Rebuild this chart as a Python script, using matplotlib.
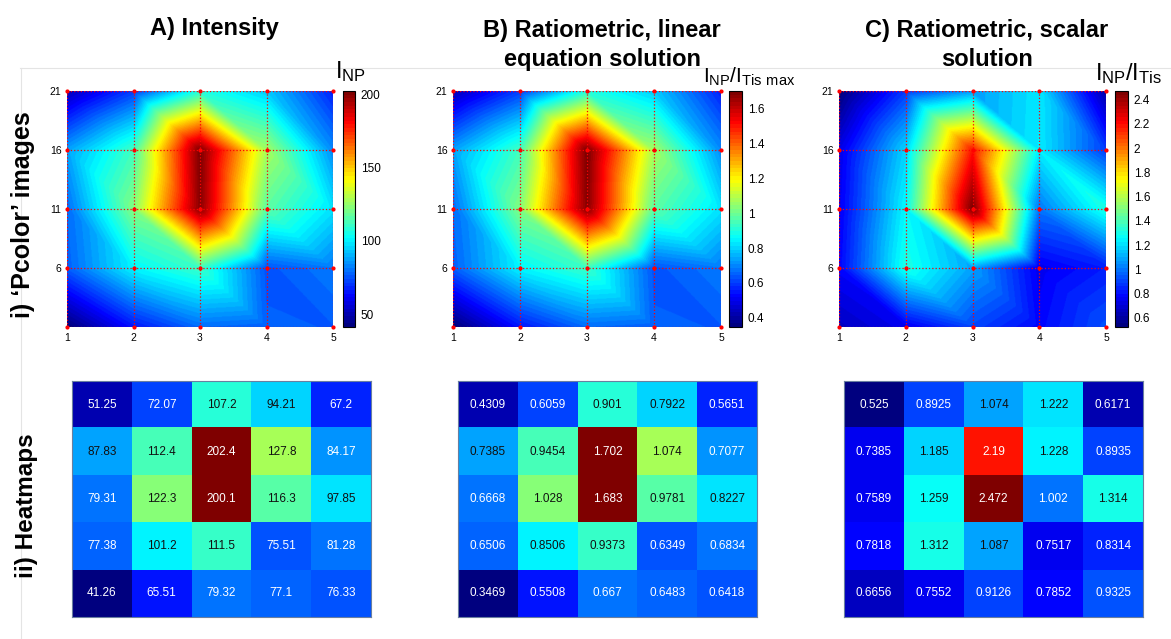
import numpy as np
import matplotlib
matplotlib.use("Agg")
import matplotlib.pyplot as plt
import matplotlib.tri as mtri
from matplotlib.lines import Line2D
from matplotlib.colors import LinearSegmentedColormap
from matplotlib.ticker import FormatStrFormatter

plt.rcParams['font.family'] = ['Liberation Sans', 'DejaVu Sans']
plt.rcParams['mathtext.fontset'] = 'custom'
plt.rcParams['mathtext.rm'] = 'Liberation Sans'

# grid positions, tables are written top row first (y = 21 down to y = 1)
x_pos = [1, 2, 3, 4, 5]
y_pos = [21, 16, 11, 6, 1]

intensity = [[51.25, 72.07, 107.2, 94.21, 67.2],
             [87.83, 112.4, 202.4, 127.8, 84.17],
             [79.31, 122.3, 200.1, 116.3, 97.85],
             [77.38, 101.2, 111.5, 75.51, 81.28],
             [41.26, 65.51, 79.32, 77.1, 76.33]]

ratio_linear = [[0.4309, 0.6059, 0.901, 0.7922, 0.5651],
                [0.7385, 0.9454, 1.702, 1.074, 0.7077],
                [0.6668, 1.028, 1.683, 0.9781, 0.8227],
                [0.6506, 0.8506, 0.9373, 0.6349, 0.6834],
                [0.3469, 0.5508, 0.667, 0.6483, 0.6418]]

ratio_scalar = [[0.525, 0.8925, 1.074, 1.222, 0.6171],
                [0.7385, 1.185, 2.19, 1.228, 0.8935],
                [0.7589, 1.259, 2.472, 1.002, 1.314],
                [0.7818, 1.312, 1.087, 0.7517, 0.8314],
                [0.6656, 0.7552, 0.9126, 0.7852, 0.9325]]

titles = ["A) Intensity",
          "B) Ratiometric, linear\nequation solution",
          "C) Ratiometric, scalar\nsolution"]
cbar_labels = [r'$\mathrm{I_{NP}}$',
               r'$\mathrm{I_{NP}/I_{Tis\ max}}$',
               r'$\mathrm{I_{NP}/I_{Tis}}$']
cbar_ticks = [[50, 100, 150, 200],
              [0.4, 0.6, 0.8, 1.0, 1.2, 1.4, 1.6],
              [0.6, 0.8, 1.0, 1.2, 1.4, 1.6, 1.8, 2.0, 2.2, 2.4]]
row_labels = ["i) \u2018Pcolor\u2019 images", "ii) Heatmaps"]

W, H = 1171, 639
fig = plt.figure(figsize=(W / 100, H / 100), dpi=100)

# MATLAB style jet, 64 steps
jet_ml = LinearSegmentedColormap('jet_ml', {
    'red':   [(0, 0, 0), (0.375, 0, 0), (0.625, 1, 1), (0.875, 1, 1), (1, 0.5, 0.5)],
    'green': [(0, 0, 0), (0.125, 0, 0), (0.375, 1, 1), (0.625, 1, 1), (0.875, 0, 0), (1, 0, 0)],
    'blue':  [(0, 0.5, 0.5), (0.125, 1, 1), (0.375, 1, 1), (0.625, 0, 0), (1, 0, 0)],
}, N=64)
cmap = jet_ml


def box(x0, y0, x1, y1):
    # pixel box (from top-left) -> figure fraction rect
    return [x0 / W, 1 - y1 / H, (x1 - x0) / W, (y1 - y0) / H]


# triangulation of the grid (each cell split top-left -> bottom-right)
X, Y = np.meshgrid(x_pos, y_pos)
tris = []
for r in range(4):
    for c in range(4):
        tl, tr = r * 5 + c, r * 5 + c + 1
        bl, br = (r + 1) * 5 + c, (r + 1) * 5 + c + 1
        tris.append([tl, bl, br])
        tris.append([tl, tr, br])
tri = mtri.Triangulation(X.ravel(), Y.ravel(), tris)
xf = np.linspace(1 + 1e-9, 5 - 1e-9, 400)
yf = np.linspace(1 + 1e-9, 21 - 1e-9, 400)
XF, YF = np.meshgrid(xf, yf)

datasets = [intensity, ratio_linear, ratio_scalar]
pc_boxes = [(67, 91, 333, 327), (453, 91, 721, 327), (839, 91, 1106, 327)]
cb_boxes = [(343, 91, 355, 327), (729, 91, 742, 327), (1115, 91, 1128, 327)]
hm_boxes = [(72, 381, 371, 617), (458, 381, 757, 617), (844, 381, 1143, 617)]
title_x = [214, 602, 987]
title_y = [29, 45, 45]
label_pos = [(335, 78), (703, 83), (1095, 80)]
label_size = [17, 15, 17]

for k, data in enumerate(datasets):
    z = np.array(data)
    vmin, vmax = z.min(), z.max()

    # interpolated "pcolor" image
    ax = fig.add_axes(box(*pc_boxes[k]))
    interp = mtri.LinearTriInterpolator(tri, z.ravel())
    zf = interp(XF, YF)
    im = ax.imshow(zf, origin='lower', extent=[1, 5, 1, 21], aspect='auto',
                   cmap=cmap, vmin=vmin, vmax=vmax)
    for xv in x_pos:
        ax.axvline(xv, color='red', ls=':', lw=0.9)
    for yv in y_pos:
        ax.axhline(yv, color='red', ls=':', lw=0.9)
    ax.plot(X.ravel(), Y.ravel(), '.', color='red', ms=4, clip_on=False)
    ax.set_xlim(1, 5)
    ax.set_ylim(1, 21)
    ax.set_xticks(x_pos)
    ax.set_yticks([6, 11, 16, 21])
    ax.tick_params(length=0, labelsize=7.5, pad=4)
    for s in ax.spines.values():
        s.set_visible(False)

    cax = fig.add_axes(box(*cb_boxes[k]))
    cb = fig.colorbar(im, cax=cax, ticks=cbar_ticks[k])
    cb.ax.yaxis.set_major_formatter(FormatStrFormatter('%g'))
    cb.ax.tick_params(length=0, labelsize=8.5, pad=4)
    cb.outline.set_linewidth(0.8)

    fig.text(label_pos[k][0] / W, 1 - label_pos[k][1] / H, cbar_labels[k],
             fontsize=label_size[k], ha='left', va='baseline')
    fig.text(title_x[k] / W, 1 - title_y[k] / H, titles[k], fontsize=17,
             fontweight='bold', ha='center', va='center', linespacing=1.3)

    # heatmap with values
    hx = fig.add_axes(box(*hm_boxes[k]))
    hx.imshow(z, cmap=cmap, vmin=vmin, vmax=vmax, aspect='auto',
              interpolation='nearest')
    norm = plt.Normalize(vmin, vmax)
    for r in range(5):
        for c in range(5):
            rgb = cmap(norm(z[r, c]))[:3]
            lum = 0.2126 * rgb[0] + 0.7152 * rgb[1] + 0.0722 * rgb[2]
            col = '#111111' if lum > 0.5 else 'white'
            hx.text(c, r, '%.4g' % z[r, c], ha='center', va='center',
                    fontsize=8.5, color=col)
    hx.set_xticks([])
    hx.set_yticks([])
    for s in hx.spines.values():
        s.set_color('#6a7fa0')
        s.set_linewidth(0.8)

fig.text(23 / W, 1 - 215 / H, row_labels[0], rotation=90, fontsize=18,
         fontweight='bold', ha='center', va='center')
fig.text(27 / W, 1 - 506 / H, row_labels[1], rotation=90, fontsize=17.5,
         fontweight='bold', ha='center', va='center')

# faint frame of the pasted panel
fig.add_artist(Line2D([20 / W, 1], [1 - 68 / H, 1 - 68 / H], color='#e4e4e4', lw=0.8))
fig.add_artist(Line2D([21 / W, 21 / W], [0, 1 - 68 / H], color='#e4e4e4', lw=0.8))

fig.savefig('out.png', dpi=100)
